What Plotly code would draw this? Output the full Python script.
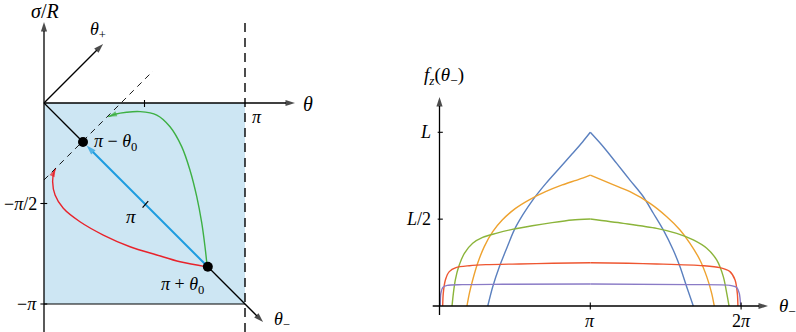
import plotly.graph_objects as go

W, H = 796, 332

# ---------------- left panel data (theta, sigma) in units of pi ----------------
pt_minus = (0.194, -0.194)     # pi - theta0
pt_plus = (0.815, -0.815)      # pi + theta0
blue_tip = (0.212, -0.212)

green_th = [0.812, 0.801, 0.785, 0.760, 0.726, 0.685, 0.627, 0.561, 0.478, 0.411, 0.353, 0.320]
green_sg = [-0.815, -0.715, -0.598, -0.466, -0.333, -0.217, -0.118, -0.060, -0.043, -0.046, -0.056, -0.068]

red_th = [0.810, 0.677, 0.561, 0.428, 0.295, 0.179, 0.096, 0.055, 0.043, 0.050, 0.058]
red_sg = [-0.815, -0.790, -0.756, -0.715, -0.657, -0.591, -0.524, -0.458, -0.392, -0.342, -0.325]

dash_th = [0.0, 0.542]
dash_sg = [-0.383, 0.159]

left_xticks = [0.5]
left_yticks = [-0.5, -1.0]
left_ytext = ["−<i>π</i>/2", "−<i>π</i>"]

# ---------------- right panel data: f_z(theta_-), theta in units of pi, f in units of L ----------------
blue_t = [0.320, 0.353, 0.397, 0.441, 0.496, 0.552, 0.618, 0.706, 0.795, 0.883, 0.950, 1.0,
          1.086, 1.175, 1.263, 1.352, 1.418, 1.484, 1.550, 1.595, 1.639, 1.683]
blue_f = [0, 0.111, 0.226, 0.322, 0.438, 0.524, 0.610, 0.706, 0.793, 0.879, 0.946, 1.0,
          0.917, 0.821, 0.725, 0.629, 0.534, 0.438, 0.322, 0.226, 0.111, 0]

orange_t = [0.182, 0.198, 0.220, 0.253, 0.297, 0.353, 0.416, 0.504, 0.592, 0.703, 0.814, 0.924, 1.0,
            1.131, 1.263, 1.396, 1.507, 1.595, 1.661, 1.727, 1.772, 1.805, 1.822]
orange_f = [0, 0.073, 0.150, 0.246, 0.342, 0.428, 0.495, 0.562, 0.610, 0.658, 0.697, 0.729, 0.754,
            0.706, 0.658, 0.591, 0.514, 0.438, 0.361, 0.265, 0.169, 0.073, 0]

green_t = [0.083, 0.092, 0.105, 0.127, 0.165, 0.220, 0.286, 0.375, 0.482, 0.615, 0.747, 0.880, 1.0,
           1.219, 1.440, 1.573, 1.683, 1.772, 1.838, 1.882, 1.905, 1.920]
green_f = [0, 0.073, 0.150, 0.226, 0.303, 0.361, 0.395, 0.418, 0.441, 0.462, 0.480, 0.495, 0.501,
           0.476, 0.447, 0.418, 0.380, 0.332, 0.265, 0.169, 0.073, 0]

red_t = [0.021, 0.025, 0.039, 0.065, 0.109, 0.198, 0.308, 0.529, 0.751, 1.0,
         1.250, 1.440, 1.749, 1.860, 1.926, 1.960, 1.975, 1.979]
red_f = [0, 0.073, 0.150, 0.198, 0.221, 0.232, 0.238, 0.242, 0.246, 0.249,
         0.246, 0.242, 0.232, 0.221, 0.198, 0.150, 0.073, 0]

purple_t = [0.005, 0.009, 0.022, 0.051, 0.150, 0.416, 1.0, 1.661, 1.926, 1.971, 1.988, 1.997]
purple_f = [0, 0.073, 0.107, 0.119, 0.123, 0.125, 0.127, 0.123, 0.119, 0.107, 0.073, 0]

right_xticks = [1.0, 2.0]
right_xtext = ["<i>π</i>", "2<i>π</i>"]
right_yticks = [0.5, 1.0]
right_ytext = ["<i>L</i>/2", "<i>L</i>"]

curves = [
    (blue_t, blue_f, "#5b80bf"),
    (orange_t, orange_f, "#eea22f"),
    (green_t, green_f, "#8bb43a"),
    (red_t, red_f, "#ee5631"),
    (purple_t, purple_f, "#8a7bc6"),
]

# pixel layout of the two panels
X0L, Y0L, SL = 44, 103, 201
X0R, Y0R, SXR, SYR = 439.5, 306, 150.8, 173.7
FONT = "Liberation Serif"

fig = go.Figure()


def seg(x0, y0, x1, y1, xr="x", yr="y", color="black", width=1.1, dash=None):
    fig.add_shape(type="line", x0=x0, x1=x1, y0=y0, y1=y1, xref=xr, yref=yr,
                  line=dict(color=color, width=width, dash=dash))


def path_arrow(xs, ys, color="black", width=1.2, head=10, shape="linear", ax="x", ay="y"):
    n = len(xs)
    fig.add_trace(go.Scatter(
        x=xs, y=ys, mode="lines+markers", xaxis=ax, yaxis=ay,
        line=dict(color=color, width=width, shape=shape),
        marker=dict(symbol=["circle"] * (n - 1) + ["arrow"], size=[0] * (n - 1) + [head],
                    angleref="previous", color=color, line=dict(width=0)),
        hoverinfo="skip", showlegend=False))


# ---------- left panel ----------
fig.add_shape(type="rect", x0=0, x1=1, y0=-1, y1=0, xref="x", yref="y",
              fillcolor="#cde6f3", line=dict(width=0), layer="below")
seg(1, (Y0L - H) / SL, 1, (Y0L - 22) / SL, width=1.4, dash="9px,6px")
seg(dash_th[0], dash_sg[0], dash_th[1], dash_sg[1], width=0.9, dash="6px,5px")
seg(0, -1, 1, -1)
for t in left_xticks:
    seg(t, -0.02, t, 0.015)
for s, txt in zip(left_yticks, left_ytext):
    seg(-0.018, s, 0.016, s)
    fig.add_annotation(x=-0.018, y=s, xref="x", yref="y", text=txt, showarrow=False,
                       xanchor="right", xshift=-1, font=dict(family=FONT, size=18, color="black"))

# theta_- axis, hidden under the blue arrow between the two points
seg(0, 0, pt_minus[0], pt_minus[1], width=1.3)
path_arrow([pt_plus[0], 1.09], [pt_plus[1], -1.09], width=1.3)

# axes
path_arrow([0, (295 - X0L) / SL], [0, 0], width=1.3)
path_arrow([0, 0], [(Y0L - H) / SL, (Y0L - 22) / SL], width=1.3)
path_arrow([0, 0.294], [0, 0.294], width=1.3)

# curves
path_arrow(green_th, green_sg, color="#3db043", width=1.4, head=9, shape="spline")
path_arrow(red_th, red_sg, color="#e8232b", width=1.4, head=9, shape="spline")
path_arrow([pt_plus[0], blue_tip[0]], [pt_plus[1], blue_tip[1]], color="#1d9ce0", width=2, head=10)

# tick across blue arrow
mid = ((pt_minus[0] + pt_plus[0]) / 2, (pt_minus[1] + pt_plus[1]) / 2)
seg(mid[0] - 0.014, mid[1] - 0.016, mid[0] + 0.014, mid[1] + 0.016, width=1.2)

fig.add_trace(go.Scatter(x=[pt_minus[0], pt_plus[0]], y=[pt_minus[1], pt_plus[1]], mode="markers",
                         marker=dict(color="black", size=10), xaxis="x", yaxis="y",
                         hoverinfo="skip", showlegend=False))


def label(px, py, txt, size=18, anchor="center"):
    fig.add_annotation(x=px / W, y=1 - py / H, xref="paper", yref="paper", text=txt, showarrow=False,
                       xanchor=anchor, yanchor="middle", font=dict(family=FONT, size=size, color="black"))


label(45, 11, "<i>σ</i>/<i>R</i>", 20)
label(98, 30, "<i>θ</i><sub>+</sub>", 18)
label(308, 104, "<i>θ</i>", 20)
label(257, 117, "<i>π</i>", 18)
label(92, 142, "<i>π</i> − <i>θ</i><sub>0</sub>", 18, "left")
label(131, 216, "<i>π</i>", 19)
label(182, 285, "<i>π</i> + <i>θ</i><sub>0</sub>", 18)
label(282, 320, "<i>θ</i><sub>−</sub>", 18)

# ---------- right panel ----------
for t, f, c in curves:
    k = f.index(max(f))
    for sl in (slice(0, k + 1), slice(k, None)):
        fig.add_trace(go.Scatter(x=t[sl], y=f[sl], mode="lines", line=dict(color=c, width=1.4, shape="spline",
                                 smoothing=0.8), xaxis="x2", yaxis="y2", hoverinfo="skip", showlegend=False))

path_arrow([-0.045, (768 - X0R) / SXR], [0, 0], width=1.3, ax="x2", ay="y2")
path_arrow([0, 0], [-0.052, (Y0R - 97) / SYR], width=1.3, ax="x2", ay="y2")
for t, txt in zip(right_xticks, right_xtext):
    seg(t, -0.02, t, 0.02, xr="x2", yr="y2")
    fig.add_annotation(x=t, y=0, xref="x2", yref="y2", text=txt, showarrow=False, yanchor="middle", yshift=-15,
                       font=dict(family=FONT, size=18, color="black"))
for f, txt in zip(right_yticks, right_ytext):
    seg(-0.012, f, 0.022, f, xr="x2", yr="y2")
    fig.add_annotation(x=0, y=f, xref="x2", yref="y2", text=txt, showarrow=False, xanchor="right", xshift=-6,
                       font=dict(family=FONT, size=18, color="black"))

label(444, 76, "<i>f<sub>z</sub></i>(<i>θ</i><sub>−</sub>)", 19)
label(787, 307, "<i>θ</i><sub>−</sub>", 19)

fig.update_layout(
    width=W, height=H, autosize=False,
    margin=dict(l=0, r=0, t=0, b=0),
    paper_bgcolor="white", plot_bgcolor="white",
    xaxis=dict(domain=[0, 340 / W], range=[-X0L / SL, (340 - X0L) / SL], visible=False),
    yaxis=dict(domain=[0, 1], range=[(Y0L - H) / SL, Y0L / SL], visible=False),
    xaxis2=dict(domain=[400 / W, 1], range=[(400 - X0R) / SXR, (W - X0R) / SXR], visible=False, anchor="y2"),
    yaxis2=dict(domain=[0, 1], range=[(Y0R - H) / SYR, Y0R / SYR], visible=False, anchor="x2"),
)

fig.write_html("out.html", config={"displayModeBar": False},
               post_script="document.body.style.margin='0';document.body.style.overflow='hidden';")
